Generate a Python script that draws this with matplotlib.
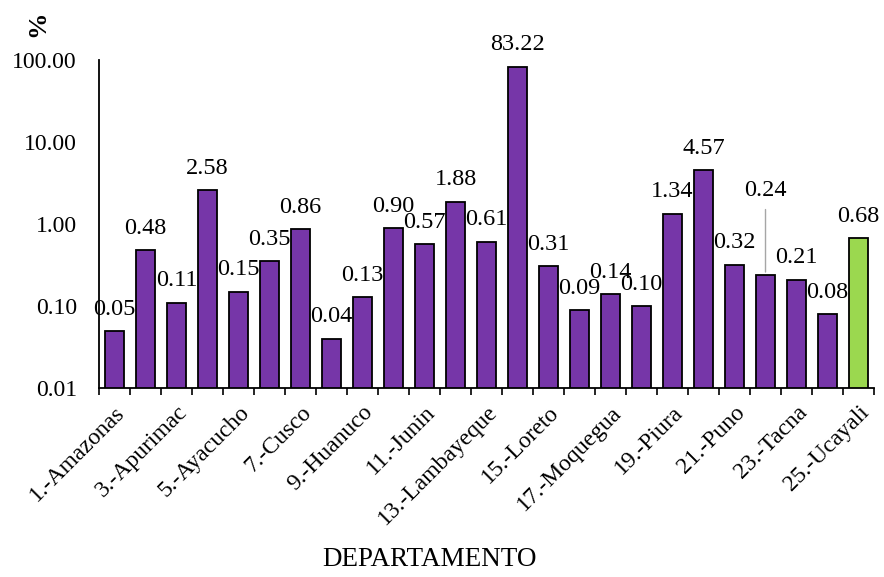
import matplotlib
matplotlib.use("Agg")
import matplotlib.pyplot as plt
import numpy as np

plt.rcParams['font.family'] = ['Liberation Serif', 'DejaVu Serif']

departamentos = [
    "1.-Amazonas", "2.-Ancash", "3.-Apurimac", "4.-Arequipa", "5.-Ayacucho",
    "6.-Cajamarca", "7.-Cusco", "8.-Huancavelica", "9.-Huanuco", "10.-Ica",
    "11.-Junin", "12.-La Libertad", "13.-Lambayeque", "14.-Lima", "15.-Loreto",
    "16.-Madre de Dios", "17.-Moquegua", "18.-Pasco", "19.-Piura", "20.-Callao",
    "21.-Puno", "22.-San Martin", "23.-Tacna", "24.-Tumbes", "25.-Ucayali",
]
porcentaje = [
    0.05, 0.48, 0.11, 2.58, 0.15, 0.35, 0.86, 0.04, 0.13, 0.90,
    0.57, 1.88, 0.61, 83.22, 0.31, 0.09, 0.14, 0.10, 1.34, 4.57,
    0.32, 0.24, 0.21, 0.08, 0.68,
]

purple = "#7636A8"
green = "#9BD84F"

fig = plt.figure(figsize=(8.84, 5.77), dpi=100)
ax = fig.add_axes([0.112, 0.3276, 0.8767, 0.5684])

x = np.arange(len(departamentos))
colors = [purple] * (len(x) - 1) + [green]
bars = ax.bar(x, porcentaje, width=0.6, color=colors, edgecolor="black",
              linewidth=1.3, zorder=2)

ax.set_yscale("log")
ax.set_ylim(0.01, 100)
ax.set_xlim(-0.5, len(x) - 0.5)
yt = [0.01, 0.1, 1, 10, 100]
ax.set_yticks(yt)
ax.set_yticklabels([f"{v:.2f}" for v in yt], fontsize=17)
ax.yaxis.set_minor_locator(matplotlib.ticker.NullLocator())
ax.tick_params(axis="y", length=0, pad=16)

# category labels on every other bar, tick marks between categories
ax.set_xticks(x)
ax.set_xticklabels([d if i % 2 == 0 else "" for i, d in enumerate(departamentos)],
                   rotation=45, ha="right", rotation_mode="anchor", fontsize=17)
ax.tick_params(axis="x", which="major", length=0, pad=10)
ax.set_xticks(np.arange(-0.5, len(x), 1.0), minor=True)
ax.tick_params(axis="x", which="minor", length=5, width=1.2, direction="out")

for s in ["top", "right"]:
    ax.spines[s].set_visible(False)
ax.spines["left"].set_linewidth(1.3)
ax.spines["bottom"].set_linewidth(1.3)

for i, v in enumerate(porcentaje):
    if departamentos[i].startswith("22."):
        ax.annotate(f"{v:.2f}", xy=(i, v), xytext=(0, 53), textcoords="offset points",
                    ha="center", va="bottom", fontsize=17.5,
                    arrowprops=dict(arrowstyle="-", color="#A6A6A6", lw=1,
                                    shrinkA=4, shrinkB=2))
    else:
        ax.annotate(f"{v:.2f}", xy=(i, v), xytext=(0, 8), textcoords="offset points",
                    ha="center", va="bottom", fontsize=17.5)

fig.text(38 / 884, 1 - 24 / 577, "%", rotation=90, fontsize=19, fontweight="bold",
         ha="center", va="center")
fig.text(430 / 884, 1 - 560 / 577, "DEPARTAMENTO", fontsize=19.5,
         ha="center", va="center")

fig.savefig("out.png", dpi=100)
